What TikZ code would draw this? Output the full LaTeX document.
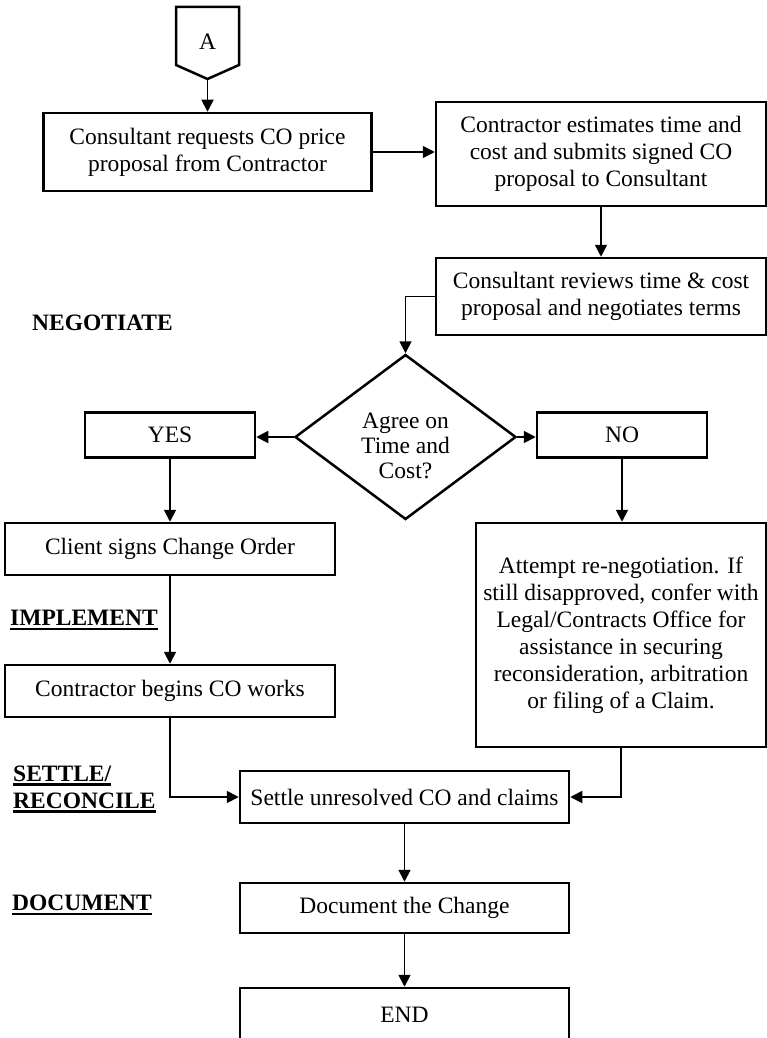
\documentclass[tikz,border=0pt]{standalone}
\usepackage{fontspec}
\setmainfont{Liberation Serif}
\usetikzlibrary{shapes.geometric,arrows.meta}
\newcommand\myul[1]{\setbox0\hbox{#1}\rlap{\copy0}\rule[-4.5pt]{\wd0}{2.2pt}}
\tikzset{
  txt/.style={font=\fontsize{23.5}{27}\selectfont, align=center, inner sep=0pt},
  box/.style={txt, draw, line width=2.5pt},
  lbl/.style={font=\fontsize{23.5}{27}\selectfont\bfseries, align=left, inner sep=0pt, anchor=west},
  conn/.style={line width=1.8pt, -{Triangle[length=12pt,width=12pt]}},
}
\begin{document}
\begin{tikzpicture}[x=1pt,y=-1pt]
\useasboundingbox (0,0) rectangle (767,1038);
\clip (0,0) rectangle (767,1038);
% off-page connector A
\draw[line width=2.5pt,line join=miter] (176,7) -- (239,7) -- (239,65) -- (207.5,79) -- (176,65) -- cycle;
\node[txt] (A) at (207.5,42) {A};
\coordinate (Apt) at (207.5,79);
% boxes
\node[box, minimum width=328pt, minimum height=78pt] (b1) at (207.5,152) {Consultant requests CO price\\proposal from Contractor};
\node[box, minimum width=330pt, minimum height=104pt] (b2) at (601,154) {Contractor estimates time and\\cost and submits signed CO\\proposal to Consultant};
\node[box, minimum width=330pt, minimum height=77pt] (b3) at (601,296.5) {Consultant reviews time \& cost\\proposal and negotiates terms};
\node[lbl] (neg) at (32,323) {NEGOTIATE};
\node[draw, line width=2.5pt, shape=diamond, inner sep=0pt, minimum width=221pt, minimum height=165pt] (dia) at (405.5,437) {};
\node[txt, font=\fontsize{23.5}{25}\selectfont] (diat) at (405.5,446) {Agree on\\Time and\\Cost?};
\node[box, minimum width=170pt, minimum height=45pt] (yes) at (170,435) {YES};
\node[box, minimum width=170pt, minimum height=45pt] (no) at (622,435) {NO};
\node[box, minimum width=330pt, minimum height=52pt] (client) at (170,549) {Client signs Change Order};
\node[box, minimum width=290pt, minimum height=224pt] (big) at (621,635) {Attempt re-negotiation. If\\still disapproved, confer with\\Legal/Contracts Office for\\assistance in securing\\reconsideration, arbitration\\or filing of a Claim.};
\node[lbl] (impl) at (10,620) {\myul{IMPLEMENT}};
\node[box, minimum width=330pt, minimum height=52pt] (cb) at (170,691) {Contractor begins CO works};
\node[lbl] (settlel) at (13,789) {\myul{SETTLE/}\\\myul{RECONCILE}};
\node[box, minimum width=329pt, minimum height=52pt] (settle) at (404.5,797) {Settle unresolved CO and claims};
\node[lbl] (docl) at (12,905) {\myul{DOCUMENT}};
\node[box, minimum width=329pt, minimum height=50pt] (doc) at (404.5,908) {Document the Change};
\node[box, minimum width=329pt, minimum height=54pt] (end) at (404.5,1015) {END};
% connectors
\draw[conn] (Apt) -- (b1.north);
\draw[conn] (b1.east) -- (b1.east -| b2.west);
\draw[conn] (b2.south) -- (b3.north);
\draw[conn] (b3.west) -| (dia.north);
\draw[conn] (dia.west) -- (dia.west -| yes.east);
\draw[conn] (dia.east) -- (dia.east -| no.west);
\draw[conn] (yes.south) -- (client.north);
\draw[conn] (no.south) -- (no.south |- big.north);
\draw[conn] (client.south) -- (cb.north);
\draw[conn] (cb.south) |- (settle.west);
\draw[conn] (big.south) |- (settle.east);
\draw[conn] (settle.south) -- (doc.north);
\draw[conn] (doc.south) -- (end.north);
\end{tikzpicture}
\end{document}
